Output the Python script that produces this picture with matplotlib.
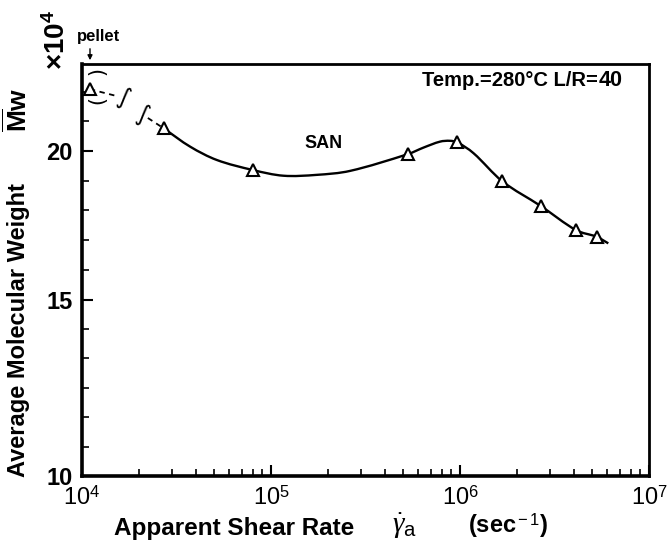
import numpy as np
import matplotlib
matplotlib.use("Agg")
import matplotlib.pyplot as plt
from matplotlib.ticker import FixedLocator, NullFormatter, LogLocator
from matplotlib.path import Path
from matplotlib.patches import PathPatch

plt.rcParams['font.family'] = ['Liberation Sans', 'DejaVu Sans']
plt.rcParams['mathtext.fontset'] = 'custom'
plt.rcParams['mathtext.rm'] = 'Liberation Sans'
plt.rcParams['mathtext.it'] = 'Liberation Serif:italic'
plt.rcParams['mathtext.bf'] = 'Liberation Sans:bold'

# ---- data ----
# measured points (shear rate, Mw x 1e4)
pellet_x = [1.10e4]
pellet_y = [22.29]
rate = [2.70e4, 8.03e4, 5.31e5, 9.70e5, 1.67e6, 2.67e6, 4.11e6, 5.28e6]
mw = [20.83, 19.32, 19.89, 20.31, 18.93, 18.07, 17.25, 17.03]

# smooth fitted curve
curve_x = [2.70e4, 3.73e4, 5.16e4, 8.03e4, 1.162e5, 1.745e5, 2.62e5,
           5.31e5, 6.39e5, 7.84e5, 8.85e5, 9.70e5, 1.18e6, 1.67e6,
           2.67e6, 4.11e6, 5.28e6, 6.09e6]
curve_y = [20.83, 20.16, 19.68, 19.32, 19.12, 19.15, 19.29,
           19.89, 20.12, 20.34, 20.37, 20.31, 19.92, 18.93,
           18.07, 17.25, 17.03, 16.81]

# dashed connectors (pellet -> break, break -> first point)
dash1_x = [1.10e4, 1.53e4]
dash1_y = [22.29, 22.03]
dash2_x = [2.23e4, 2.70e4]
dash2_y = [21.21, 20.83]
break_x = [1.65e4, 2.10e4]
break_y = [21.96, 21.32]

xticks = [1e4, 1e5, 1e6, 1e7]
xticklabels = [r'$10^4$', r'$10^5$', r'$10^6$', r'$10^7$']
yticks = [10, 15, 20]
yticklabels = ['10', '15', '20']

W, H = 669, 547
fig = plt.figure(figsize=(W / 100, H / 100), dpi=100)
ax = fig.add_axes([82 / W, 1 - 476 / H, (649 - 82) / W, (476 - 63.5) / H])

ax.set_xscale('log')
ax.set_yscale('function', functions=(lambda v: np.sqrt(np.clip(v, 0, None)), np.square))
ax.set_xlim(1e4, 1e7)
ax.set_ylim(10, 23.28)

# smooth curve through traced points: cubic Bezier segments drawn by matplotlib
u = np.log10(curve_x)
v = np.sqrt(curve_y)
n = len(u)
verts = [(curve_x[0], curve_y[0])]
codes = [Path.MOVETO]
for i in range(n - 1):
    i0 = max(i - 1, 0)
    i3 = min(i + 2, n - 1)
    h = u[i + 1] - u[i]
    c1u = u[i] + h / 3
    c1v = v[i] + (v[i + 1] - v[i0]) / (u[i + 1] - u[i0]) * h / 3
    c2u = u[i + 1] - h / 3
    c2v = v[i + 1] - (v[i3] - v[i]) / (u[i3] - u[i]) * h / 3
    verts += [(10 ** c1u, c1v ** 2), (10 ** c2u, c2v ** 2), (curve_x[i + 1], curve_y[i + 1])]
    codes += [Path.CURVE4] * 3
ax.add_patch(PathPatch(Path(verts, codes), fill=False, edgecolor='black', lw=1.7))

ax.plot(dash1_x, dash1_y, color='black', lw=1.3, ls=(0, (3, 2.5)))
ax.plot(dash2_x, dash2_y, color='black', lw=1.3, ls=(0, (3, 2.5)))
ax.plot(rate, mw, ls='none', marker='^', ms=9, mfc='white', mec='black', mew=1.5, zorder=5)
ax.plot(pellet_x, pellet_y, ls='none', marker='^', ms=9, mfc='white', mec='black', mew=1.5, zorder=5)
for bx, by in zip(break_x, break_y):
    ax.text(bx, by, '\u222b', fontsize=17, ha='center', va='center', family='DejaVu Sans',
            rotation=-20)
# parentheses around pellet point
ax.annotate('(', xy=(pellet_x[0], pellet_y[0]), xytext=(3, 12), textcoords='offset points',
            ha='center', va='center', rotation=-90, fontsize=15, family='DejaVu Sans')
ax.annotate(')', xy=(pellet_x[0], pellet_y[0]), xytext=(3, -9), textcoords='offset points',
            ha='center', va='center', rotation=-90, fontsize=15, family='DejaVu Sans')

# ticks
ax.set_xticks(xticks)
ax.set_xticklabels(xticklabels)
ax.xaxis.set_minor_locator(LogLocator(base=10, subs=np.arange(2, 10)))
ax.xaxis.set_minor_formatter(NullFormatter())
ax.set_yticks(yticks)
ax.set_yticklabels(yticklabels)
s10, s15, s20 = np.sqrt(10), np.sqrt(15), np.sqrt(20)
minor_s = list(s10 + (s15 - s10) * np.arange(1, 6) / 6) + \
          list(s15 + (s20 - s15) * np.arange(1, 5) / 5) + \
          list(s20 + 0.1195 * np.arange(1, 3))
ax.yaxis.set_minor_locator(FixedLocator(np.square(minor_s)))
ax.yaxis.set_minor_formatter(NullFormatter())

ax.tick_params(which='major', direction='in', length=8, width=1.5, labelsize=17, pad=7,
               top=False, right=False)
ax.tick_params(which='minor', direction='in', length=5, width=1.2, top=False, right=False)
for lab in ax.get_xticklabels() + ax.get_yticklabels():
    lab.set_fontweight('bold')
for sp in ax.spines.values():
    sp.set_linewidth(2.0)
ax.spines['left'].set_linewidth(2.6)
ax.spines['bottom'].set_linewidth(2.6)

# texts
def fx(px):
    return px / W

def fy(py):
    return 1 - py / H

fig.text(fx(598), fy(80), 'Temp.=280\u00b0C L/R=', fontsize=14.5, fontweight='bold',
         ha='right', va='center')
fig.text(fx(599), fy(80), '40', fontsize=15.5, fontweight='heavy', ha='left', va='center')
fig.text(fx(324), fy(143), 'SAN', fontsize=13, fontweight='bold', ha='center', va='center')

fig.text(fx(234), fy(528), 'Apparent Shear Rate', fontsize=17.5, fontweight='bold',
         ha='center', va='center')
fig.text(fx(405), fy(526), r'$\dot{\gamma}_{\rm a}$', fontsize=21, ha='center', va='center')
fig.text(fx(508), fy(526), r'(sec$^{\rm -1}$)', fontsize=17, fontweight='bold',
         ha='center', va='center')

fig.text(fx(19), fy(330), 'Average Molecular Weight', fontsize=17, fontweight='bold',
         rotation=90, ha='center', va='center')
fig.text(fx(17), fy(110), r'$\overline{\mathbf{M}}$w', fontsize=19, fontweight='bold',
         rotation=90, ha='center', va='center')
fig.text(fx(57), fy(40), r'$\mathbf{\times 10^4}$', fontsize=20, rotation=90,
         ha='center', va='center')
fig.text(fx(99), fy(36), 'pellet', fontsize=12, fontweight='bold', ha='center', va='center')
ax.annotate('', xy=(90, H - 63), xycoords='figure pixels', xytext=(90, H - 46),
            textcoords='figure pixels',
            arrowprops=dict(arrowstyle='-|>', lw=1.0, color='black', mutation_scale=7))

fig.savefig('out.png', dpi=100)
